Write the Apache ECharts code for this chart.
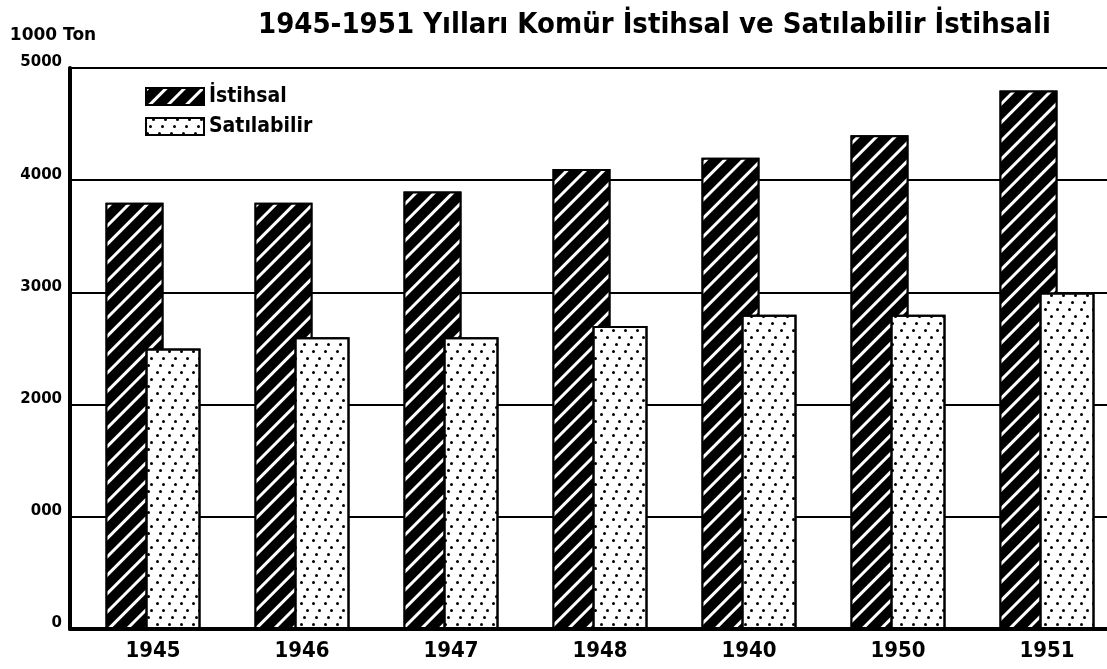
<!DOCTYPE html>
<html>
<head>
<meta charset="utf-8">
<script src="https://cdn.jsdelivr.net/npm/echarts@6/dist/echarts.min.js"></script>
<style>
  html, body { margin: 0; padding: 0; background: #fff; }
  #chart { width: 1107px; height: 669px; }
</style>
</head>
<body>
<div id="chart"></div>
<script>
// values (1000 ton)
const years = ['1945', '1946', '1947', '1948', '1940', '1950', '1951']
const istihsal = [3800, 3800, 3900, 4100, 4200, 4400, 4800]
const satilabilir = [2500, 2600, 2600, 2700, 2800, 2800, 3000]
const yTickLabels = ['0', '000', '2000', '3000', '4000', '5000']

const font = "'DejaVu Sans Condensed', 'DejaVu Sans', sans-serif"
const wideFont = "'DejaVu Sans', sans-serif"

const chart = echarts.init(document.getElementById('chart'))

const hatch = {
  symbol: 'rect',
  color: '#fff',
  dashArrayX: [1, 0],
  dashArrayY: [3, 10],
  rotation: -Math.PI / 4
}

const dots = {
  symbol: 'circle',
  color: '#000',
  symbolSize: 1,
  dashArrayX: [[3, 9], [0, 6, 3, 3], [0, 3, 3, 6]],
  dashArrayY: [3, 4],
  rotation: 0
}

const option = {
  backgroundColor: '#fff',
  textStyle: { fontFamily: font, color: '#000' },
  title: {
    text: '1945-1951 Yılları Komür İstihsal ve Satılabilir İstihsali',
    left: 253,
    top: 6,
    textStyle: { fontFamily: font, fontSize: 29, fontWeight: 'bold', color: '#000' }
  },
  legend: {
    orient: 'vertical',
    left: 140,
    top: 81,
    icon: 'rect',
    itemWidth: 58,
    itemHeight: 17,
    itemGap: 9,
    textStyle: { fontFamily: font, fontSize: 21, fontWeight: 'bold', color: '#000', lineHeight: 20 },
    data: ['İstihsal', 'Satılabilir']
  },
  grid: [
    // frame: y axis, grid lines, base line
    { left: 70, right: 0, top: 68, bottom: 40, outerBoundsMode: 'none' },
    // bars, the pairs run a little past the right edge of the page
    { left: 78.5, width: 1043, top: 68, bottom: 40, outerBoundsMode: 'none' }
  ],
  xAxis: [
    {
      gridIndex: 0,
      type: 'category',
      data: years,
      axisLine: { lineStyle: { color: '#000', width: 4 } },
      axisTick: { show: false },
      axisLabel: { show: false }
    },
    {
      gridIndex: 1,
      type: 'category',
      data: years,
      axisLine: { show: false },
      axisTick: { show: false },
      axisLabel: {
        margin: 11,
        fontFamily: font,
        fontSize: 22,
        fontWeight: 'bold',
        color: '#000'
      }
    }
  ],
  yAxis: [
    {
      gridIndex: 0,
      type: 'value',
      min: 0,
      max: 5000,
      interval: 1000,
      name: '1000 Ton',
      nameLocation: 'end',
      nameGap: 24,
      nameTextStyle: {
        fontFamily: wideFont,
        fontSize: 17,
        fontWeight: 'bold',
        color: '#000',
        align: 'center',
        padding: [0, 34, 0, 0]
      },
      axisLine: { show: true, lineStyle: { color: '#000', width: 4 } },
      axisTick: { show: false },
      splitLine: { lineStyle: { color: '#000', width: 2 } },
      axisLabel: {
        margin: 8,
        fontFamily: wideFont,
        fontSize: 15,
        fontWeight: 'bold',
        color: '#000',
        verticalAlign: 'bottom',
        lineHeight: 11,
        formatter: v => yTickLabels[Math.round(v / 1000)]
      }
    },
    {
      gridIndex: 1,
      type: 'value',
      min: 0,
      max: 5000,
      show: false
    }
  ],
  series: [
    {
      name: 'İstihsal',
      type: 'bar',
      xAxisIndex: 1,
      yAxisIndex: 1,
      data: istihsal,
      barWidth: 58,
      barGap: '-31%',
      itemStyle: {
        color: '#000',
        borderColor: '#000',
        borderWidth: 2,
        decal: hatch
      }
    },
    {
      name: 'Satılabilir',
      type: 'bar',
      xAxisIndex: 1,
      yAxisIndex: 1,
      data: satilabilir,
      barWidth: 55,
      itemStyle: {
        color: '#fff',
        borderColor: '#000',
        borderWidth: 2,
        decal: dots
      }
    }
  ]
}

chart.setOption(option)
</script>
</body>
</html>
